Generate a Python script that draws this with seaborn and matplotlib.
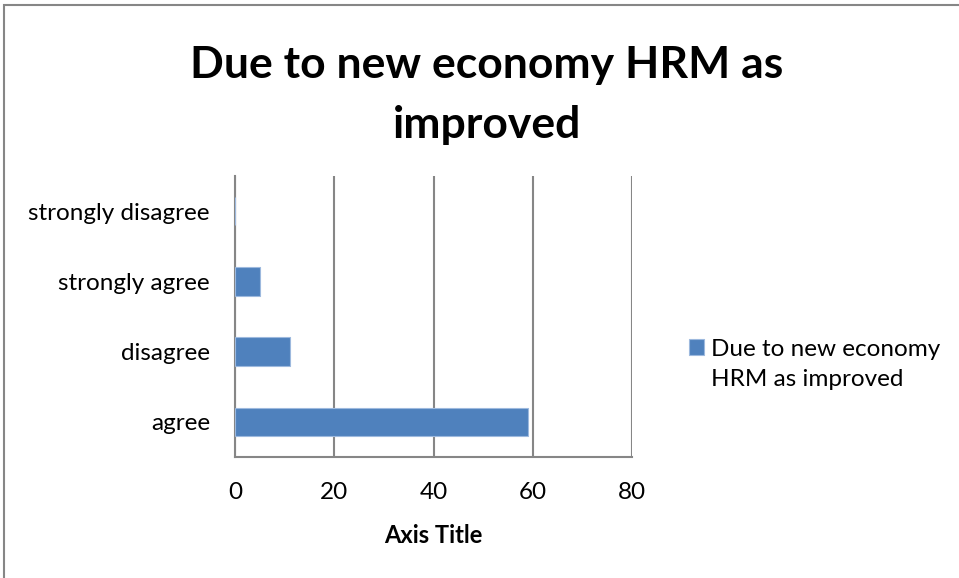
import matplotlib
matplotlib.use("Agg")
import matplotlib.pyplot as plt
import seaborn as sns
import pandas as pd
from matplotlib.patches import Rectangle

categories = ["strongly disagree", "strongly agree", "disagree", "agree"]
values = [0, 5, 11, 59]
series_line1 = "Due to new economy"
series_line2 = "HRM as improved"
title = "Due to new economy HRM as\nimproved"
x_ticks = [0, 20, 40, 60, 80]

sns.set_theme(style="white")
plt.rcParams["font.family"] = ["Lato", "DejaVu Sans"]
plt.rcParams["text.color"] = "black"

df = pd.DataFrame({"category": categories, "value": values})

fig = plt.figure(figsize=(9.59, 5.78), dpi=100)
ax = fig.add_axes([235/959, 1-457/578, (632-235)/959, (457-176)/578])

sns.barplot(data=df, y="category", x="value", order=categories, orient="h",
            color="#4F81BD", saturation=1, width=0.405, ax=ax,
            edgecolor="#9DB9DE", linewidth=0.8, label=series_line1, zorder=3)

ax.set_xlim(0, 80)
ax.set_xticks(x_ticks)
ax.set_xticklabels([str(t) for t in x_ticks])
ax.tick_params(axis="y", labelsize=17.5, length=0, pad=18, colors="#000000")
ax.tick_params(axis="x", labelsize=17.5, length=0, pad=18, colors="#000000", bottom=True)
ax.set_ylabel("")
ax.set_xlabel("Axis Title", fontsize=17, fontweight="bold", labelpad=15, color="black")
ax.grid(axis="x", color="#868686", linewidth=1.5, zorder=0)
ax.grid(axis="y", visible=False)
for side in ["top", "right"]:
    ax.spines[side].set_visible(False)
for side in ["left", "bottom"]:
    ax.spines[side].set_color("#868686")
    ax.spines[side].set_linewidth(1.5)

fig.suptitle(title, fontsize=32, fontweight="bold", x=487/959, y=1-45/578, va="top",
             linespacing=1.6, color="black")

leg = ax.legend(loc="center left", bbox_to_anchor=(689/959, 1-349/578), bbox_transform=fig.transFigure,
                frameon=False, fontsize=17.5, handlelength=0.62, handleheight=0.62, handletextpad=0.3,
                borderaxespad=0, borderpad=0)
fig.text(711/959, 1-386/578, series_line2, fontsize=17.5, va="baseline", ha="left", color="black")

fig.patches.append(Rectangle((4/959, -0.1), 1.2, 1-5/578+0.1, transform=fig.transFigure,
                             fill=False, edgecolor="#868686", linewidth=1.5))

fig.savefig("out.png", dpi=100)
